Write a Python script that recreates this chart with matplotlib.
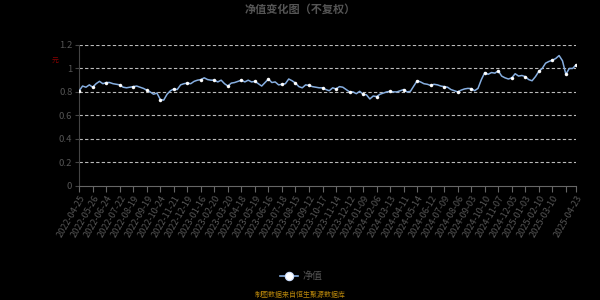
import matplotlib
matplotlib.use("Agg")
import matplotlib.pyplot as plt

plt.rcParams['font.family'] = ['Noto Sans CJK SC', 'DejaVu Sans']

# tick labels on the category axis (one every 4 points, last one at the end)
TICK_DATES = [
    "2022-04-25", "2022-05-26", "2022-06-24", "2022-07-22", "2022-08-19", "2022-09-19",
    "2022-10-24", "2022-11-21", "2022-12-19", "2023-01-16", "2023-02-20", "2023-03-20",
    "2023-04-18", "2023-05-19", "2023-06-16", "2023-07-18", "2023-08-15", "2023-09-12",
    "2023-10-17", "2023-11-14", "2023-12-12", "2024-01-09", "2024-02-06", "2024-03-13",
    "2024-04-11", "2024-05-14", "2024-06-12", "2024-07-09", "2024-08-06", "2024-09-03",
    "2024-10-10", "2024-11-07", "2024-12-05", "2025-01-03", "2025-02-10", "2025-03-10",
    "", "2025-04-23",
]

# 净值 (~weekly resolution)
NAV = [
    0.81, 0.85, 0.84, 0.86, 0.84, 0.87, 0.89, 0.87, 0.88, 0.88,
    0.87, 0.865, 0.86, 0.84, 0.835, 0.84, 0.845, 0.85, 0.84, 0.83,
    0.815, 0.80, 0.78, 0.79, 0.735, 0.73, 0.78, 0.81, 0.825, 0.82,
    0.86, 0.87, 0.875, 0.87, 0.89, 0.90, 0.905, 0.92, 0.905, 0.90,
    0.90, 0.885, 0.90, 0.87, 0.85, 0.875, 0.88, 0.89, 0.90, 0.885,
    0.90, 0.885, 0.89, 0.87, 0.85, 0.88, 0.91, 0.88, 0.885, 0.86,
    0.865, 0.87, 0.91, 0.895, 0.875, 0.845, 0.835, 0.86, 0.855, 0.845,
    0.84, 0.835, 0.835, 0.82, 0.81, 0.835, 0.825, 0.845, 0.84, 0.82,
    0.80, 0.80, 0.785, 0.805, 0.78, 0.775, 0.74, 0.765, 0.76, 0.78,
    0.79, 0.80, 0.805, 0.80, 0.80, 0.81, 0.82, 0.80, 0.805, 0.85,
    0.895, 0.885, 0.87, 0.865, 0.855, 0.865, 0.86, 0.85, 0.845, 0.84,
    0.82, 0.81, 0.80, 0.815, 0.825, 0.83, 0.828, 0.81, 0.83, 0.905,
    0.965, 0.95, 0.965, 0.96, 0.98, 0.935, 0.92, 0.91, 0.92, 0.955,
    0.935, 0.94, 0.93, 0.905, 0.895, 0.93, 0.975, 1.00, 1.045, 1.06,
    1.07, 1.085, 1.11, 1.065, 0.95, 1.0, 1.0, 1.03,
]

LINE_COLOR = '#86aee0'
TEXT_GRAY = '#555555'

fig = plt.figure(figsize=(6, 3), dpi=100, facecolor='black')
ax = fig.add_axes([0.132, 0.381, 0.828, 0.469])
ax.set_facecolor('black')

n = len(NAV)
x = list(range(n))
tick_pos = list(range(0, n - 1, 4)) + [n - 1]

ax.plot(x, NAV, color=LINE_COLOR, linewidth=1.1,
        marker='o', markersize=2.2, markerfacecolor='white',
        markeredgecolor='white', markeredgewidth=0.3,
        markevery=tick_pos, zorder=3)

ax.set_xlim(0, n - 1)
ax.set_ylim(0, 1.2)
ax.set_yticks([0, 0.2, 0.4, 0.6, 0.8, 1.0, 1.2])
ax.set_yticklabels(['0', '0.2', '0.4', '0.6', '0.8', '1', '1.2'])
ax.set_xticks(tick_pos)
ax.set_xticklabels(TICK_DATES, rotation=60, ha='right', rotation_mode='anchor')

for yv in [0.2, 0.4, 0.6, 0.8, 1.0, 1.2]:
    ax.axhline(yv, color='#bbbbbb', linewidth=0.8, linestyle=(0, (3, 2)), zorder=1)

for side in ['top', 'right']:
    ax.spines[side].set_visible(False)
ax.spines['left'].set_color('#444444')
ax.spines['bottom'].set_color('#666666')
ax.tick_params(axis='x', colors='#666666', labelcolor=TEXT_GRAY, labelsize=6.6, length=4, width=0.8, pad=2)
ax.tick_params(axis='y', colors='#444444', labelcolor=TEXT_GRAY, labelsize=6.8, length=3, width=0.8, pad=2)

fig.text(0.5, 0.97, '净值变化图（不复权）', color=TEXT_GRAY, fontsize=8,
         fontweight='bold', ha='center', va='center')
fig.text(0.092, 0.797, '元', color='#8b0000', fontsize=5, ha='center', va='center')

# legend drawn by hand in figure coords
fig.lines.append(plt.Line2D([0.467, 0.497], [0.08, 0.08], transform=fig.transFigure,
                            color=LINE_COLOR, linewidth=1.2))
fig.lines.append(plt.Line2D([0.482], [0.08], transform=fig.transFigure, marker='o',
                            markersize=6, markerfacecolor='white',
                            markeredgecolor='#cfe0ff', markeredgewidth=0.8))
fig.text(0.505, 0.08, '净值', color=TEXT_GRAY, fontsize=7.2, ha='left', va='center')
fig.text(0.5, 0.017, '制图数据来自恒生聚源数据库', color='#b8860b', fontsize=5,
         ha='center', va='center')

fig.savefig('out.png', dpi=100, facecolor='black')
